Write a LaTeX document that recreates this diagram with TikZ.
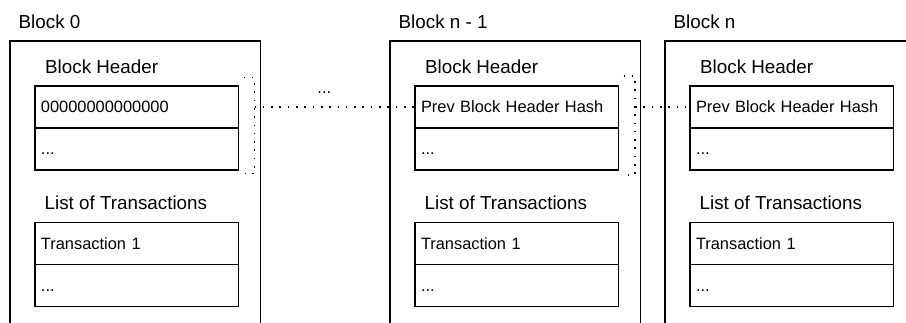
\documentclass[tikz,border=0pt]{standalone}
\usepackage{fontspec}
\setmainfont{Liberation Sans}
\begin{document}
\begin{tikzpicture}[x=1pt,y=-1pt,
  blockbox/.style={draw, line width=1.6pt, minimum width=250.5pt, minimum height=300pt, inner sep=0pt, outer sep=0pt, anchor=north west},
  rowbox/.style={draw, line width=1.6pt, minimum width=203.5pt, minimum height=42pt, inner xsep=6pt, inner ysep=0pt, outer sep=0pt, text width=191.5pt, align=left, text height=12pt, text depth=0pt, anchor=north west, font=\fontsize{16.4}{18}\selectfont},
  titletext/.style={anchor=base west, inner sep=0pt, font=\fontsize{18.8}{22}\selectfont},
  smalltext/.style={anchor=base, inner sep=0pt, font=\fontsize{16.4}{18}\selectfont},
  link/.style={line width=1.6pt, dash pattern=on 1.6pt off 6.7pt}]
\useasboundingbox (0,0) rectangle (906,323);
\clip (0,0) rectangle (906,323);
\foreach \i/\X/\first/\name in {0/10/00000000000000/Block 0, 1/390/Prev Block Header Hash/Block n - 1, 2/665/Prev Block Header Hash/Block n}{
  \node[titletext] (t\i) at (\X+8.5,28.5) {\name};
  \node[blockbox] (b\i) at (\X,41) {};
  \node[titletext] (bh\i) at (\X+35,74) {Block Header};
  \node[rowbox] (h\i a) at (\X+25,86) {\first};
  \node[rowbox] (h\i b) at (h\i a.south west) {...};
  \node[titletext] (lt\i) at (\X+34.5,210) {List of Transactions};
  \node[rowbox] (x\i a) at (\X+25,222.5) {Transaction 1};
  \node[rowbox] (x\i b) at (x\i a.south west) {...};
}
% brackets and links
\draw[link] (243.5,77.5) -- (254.5,77.5) -- (254.5,173.5) -- (245,173.5);
\coordinate (k0) at (254.5,107);
\draw[link] (k0) -- (h1a.west);
\draw[link] (623.5,76) -- (635,76) -- (635,175) -- (627.5,175);
\coordinate (k1) at (635,107);
\draw[link] (k1) -- (h2a.west);
\node[smalltext] (gap) at (324.3,93.5) {...};
\end{tikzpicture}
\end{document}
